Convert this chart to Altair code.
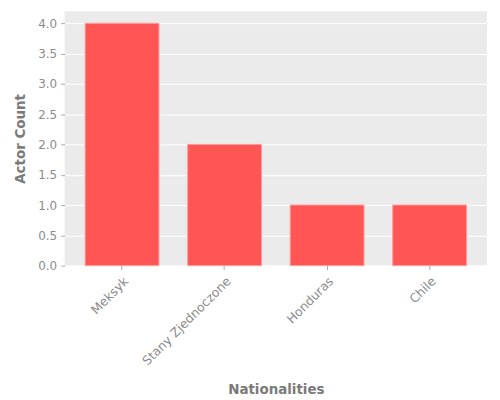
import altair as alt
import pandas as pd

nationalities = ["Meksyk", "Stany Zjednoczone", "Honduras", "Chile"]
counts = [4, 2, 1, 1]

df = pd.DataFrame({"Nationalities": nationalities, "Actor Count": counts})

chart = alt.Chart(df).mark_bar(
    color="#FF5555", stroke="#FF9A9A", strokeWidth=1
).encode(
    x=alt.X("Nationalities:N", sort=nationalities,
            scale=alt.Scale(paddingInner=0.28, paddingOuter=0.2),
            axis=alt.Axis(labelAngle=-45, labelAlign="right", labelBaseline="top",
                          grid=False, domain=False, tickColor="#AAAAAA", tickSize=4,
                          labelColor="#8C8C8C", labelFontSize=12.5, labelPadding=5,
                          titleColor="#7A7A7A", titleFontSize=13.5, titleFontWeight="bold",
                          titlePadding=15)),
    y=alt.Y("Actor Count:Q", scale=alt.Scale(domain=[0, 4.2], nice=False),
            axis=alt.Axis(values=[0, 0.5, 1, 1.5, 2, 2.5, 3, 3.5, 4], format=".1f",
                          grid=True, gridColor="white", gridWidth=1, domain=False,
                          tickColor="#AAAAAA", tickSize=4,
                          labelColor="#8C8C8C", labelFontSize=12, labelPadding=4,
                          titleColor="#7A7A7A", titleFontSize=13.5, titleFontWeight="bold",
                          titlePadding=10)),
).properties(
    width=425, height=256,
    padding={"top": 2, "left": 5, "right": 5, "bottom": 5},
).configure(
    font="DejaVu Sans", background="white"
).configure_view(
    fill="#EBEBEB", stroke=None
)

chart.save("out.html", embed_options={"renderer": "svg", "actions": False})
